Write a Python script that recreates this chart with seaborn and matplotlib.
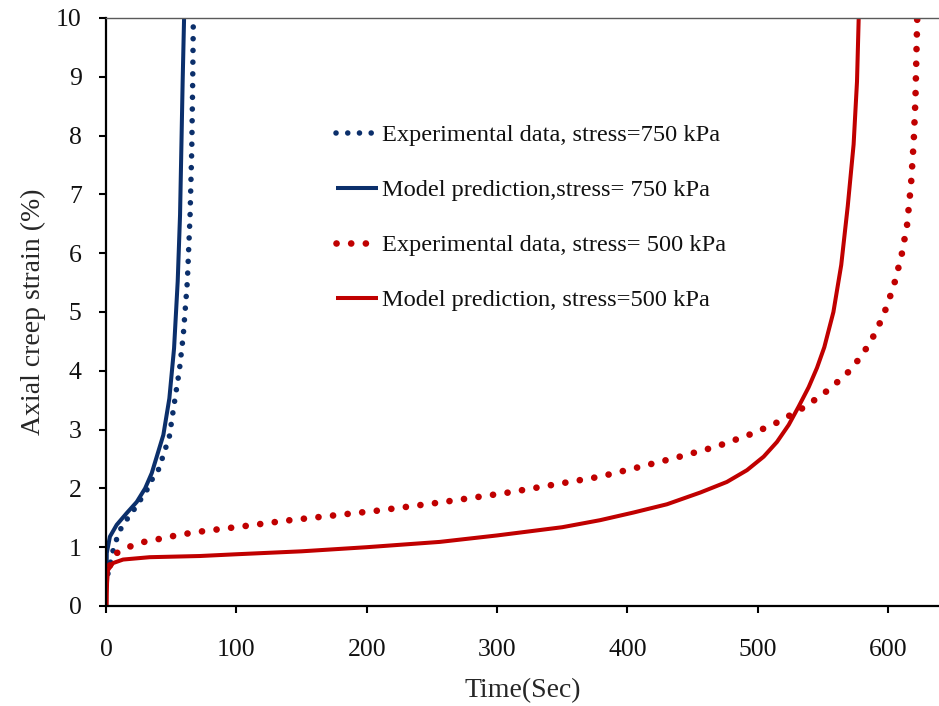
import matplotlib
matplotlib.use("Agg")
import matplotlib.pyplot as plt
import seaborn as sns
import pandas as pd

# Creep test at 750 kPa: experimental readings and model curve
exp750_t = [1.5, 4.3, 6.1, 10.7, 15.3, 20.9, 26.0, 31.1, 35.0, 40.1, 42.7, 48.6, 52.2,
            56.3, 59.3, 62.4, 64.5, 65.8, 66.5, 67.0]
exp750_e = [0.55, 0.83, 1.01, 1.29, 1.45, 1.62, 1.79, 1.96, 2.14, 2.31, 2.48, 2.88, 3.42,
            4.01, 4.61, 5.52, 6.65, 7.78, 8.92, 10.0]

mod750_t = [0.5, 0.6, 3.0, 8.2, 15.9, 23.6, 30.0, 35.1, 44.0, 48.6, 52.2, 55.0, 56.8,
            57.8, 58.8, 59.9]
mod750_e = [0.55, 0.90, 1.18, 1.38, 1.58, 1.77, 2.00, 2.26, 2.91, 3.53, 4.38, 5.52, 6.65,
            7.78, 8.92, 10.0]

# Creep test at 500 kPa: experimental readings and model curve
exp500_t = [3.0, 8.2, 17.1, 26.6, 36.8, 46.6, 56.8, 67.0, 77.3, 106.7, 137.4, 207.7, 256.0,
            308.8, 379.0, 408.5, 438.5, 468.1, 496.8, 514.7, 532.6, 550.0, 558.2, 566.4,
            579.9, 590.9, 599.1, 605.5, 610.6, 614.5, 617.6, 619.6, 620.9, 621.6, 622.3]
exp500_e = [0.69, 0.90, 1.00, 1.08, 1.12, 1.17, 1.21, 1.25, 1.28, 1.36, 1.45, 1.62, 1.76,
            1.93, 2.20, 2.36, 2.53, 2.71, 2.94, 3.12, 3.34, 3.60, 3.76, 3.90,
            4.26, 4.67, 5.10, 5.54, 6.00, 6.48, 7.19, 7.90, 8.60, 9.31, 10.0]

mod500_t = [0.5, 0.6, 0.8, 1.5, 5.4, 13.1, 33.5, 71.9, 100.0, 150.0, 200.0, 256.0, 300.0,
            350.0, 379.1, 404.7, 430.3, 455.9, 476.3, 491.7, 504.5, 514.7, 523.7, 531.3,
            539.0, 545.4, 551.0, 558.0, 564.0, 569.0, 573.5, 576.1, 577.4]
mod500_e = [0.0, 0.20, 0.39, 0.61, 0.73, 0.79, 0.83, 0.85, 0.88, 0.93, 1.00, 1.09, 1.20,
            1.34, 1.46, 1.59, 1.73, 1.93, 2.11, 2.31, 2.54, 2.79, 3.08, 3.39,
            3.72, 4.05, 4.40, 5.00, 5.80, 6.80, 7.85, 8.92, 10.0]

labels = [
    "Experimental data, stress=750 kPa",
    "Model prediction,stress= 750 kPa",
    "Experimental data, stress= 500 kPa",
    "Model prediction, stress=500 kPa",
]

x_ticks = [0, 100, 200, 300, 400, 500, 600]
y_ticks = list(range(0, 11))

navy = "#0b2f6b"
red = "#c00000"

sns.set_style("ticks")
plt.rcParams["font.family"] = ["Liberation Serif", "DejaVu Serif"]
plt.rcParams["text.color"] = "#111111"

fig = plt.figure(figsize=(9.39, 7.06), dpi=100)
ax = fig.add_axes([106 / 939, 100 / 706, 833 / 939, 588 / 706])

series = [
    (exp750_t, exp750_e, labels[0], navy, 4.0, (0, (0.01, 2.1))),
    (mod750_t, mod750_e, labels[1], navy, 2.9, "-"),
    (exp500_t, exp500_e, labels[2], red, 4.8, (0, (0.01, 2.19))),
    (mod500_t, mod500_e, labels[3], red, 2.9, "-"),
]

for t, e, lab, col, lw, ls in series:
    df = pd.DataFrame({"Time": t, "Strain": e})
    sns.lineplot(data=df, x="Time", y="Strain", ax=ax, color=col, linewidth=lw,
                 linestyle=ls, dash_capstyle="round", solid_capstyle="butt",
                 solid_joinstyle="round", estimator=None, sort=False, label=lab)

ax.set_xlim(0, 639)
ax.set_ylim(0, 10)
ax.set_xticks(x_ticks)
ax.set_yticks(y_ticks)
ax.tick_params(axis="both", direction="out", length=5, width=1.5, labelsize=18.5,
               colors="black", labelcolor="#111111")
ax.tick_params(axis="y", pad=12.5)
ax.tick_params(axis="x", pad=19)

for side in ("left", "bottom"):
    ax.spines[side].set_linewidth(1.6)
    ax.spines[side].set_color("black")
ax.spines["right"].set_visible(False)
ax.spines["top"].set_linewidth(1.0)
ax.spines["top"].set_color("#5a5a5a")

ax.set_xlabel("Time(Sec)", fontsize=20, labelpad=12)
ax.set_ylabel("Axial creep strain (%)", fontsize=20, labelpad=7)

handles, labs = ax.get_legend_handles_labels()
ax.legend(handles, labs, loc="upper left", bbox_to_anchor=(336 / 939, 1 - 124 / 706),
          bbox_transform=fig.transFigure, frameon=False, fontsize=17.6,
          handlelength=1.72, handletextpad=0.16, labelspacing=1.35, borderpad=0,
          borderaxespad=0)

fig.savefig("out.png", dpi=100)
